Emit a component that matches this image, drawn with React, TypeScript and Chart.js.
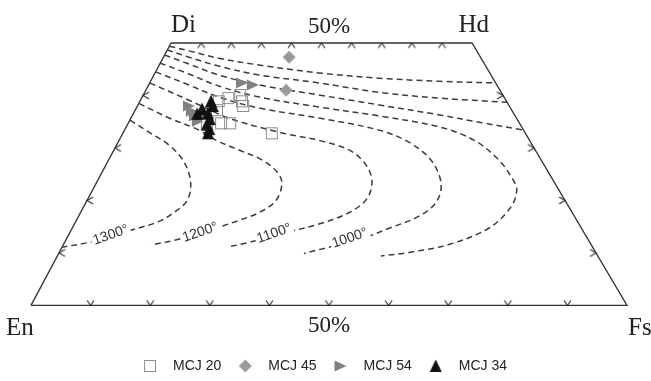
import React, { useEffect, useRef } from 'react';
import { Chart, registerables } from 'chart.js';

Chart.register(...registerables);

// Quadrilateral corners: x = position along the En–Fs base (0–100), y = Wo (%)
const cornerNames = ['En', 'Fs', 'Hd', 'Di'];
const cornerX = [0, 100, 74.0, 23.5];
const cornerY = [0, 0, 50, 50];

// Tick positions
const edgeTickFractions = [0.1, 0.2, 0.3, 0.4, 0.5, 0.6, 0.7, 0.8, 0.9];
const sideTickWo = [10, 20, 30, 40];

// Samples
const seriesNames = ['MCJ 20', 'MCJ 45', 'MCJ 54', 'MCJ 34'];
const mcj20X = [31.5, 33.1, 35.1, 35.4, 35.6, 31.2, 31.9, 33.4, 29.5, 40.4];
const mcj20Y = [38.9, 39.5, 40.1, 38.9, 38.0, 37.2, 34.7, 34.7, 34.4, 32.8];
const mcj45X = [43.3, 42.8];
const mcj45Y = [47.3, 41.0];
const mcj54X = [35.4, 37.2, 26.5, 27.0, 27.5, 28.0, 28.7];
const mcj54Y = [42.4, 42.0, 38.0, 37.0, 36.1, 35.1, 35.9];
const mcj34X = [30.2, 30.5, 28.7, 29.7, 27.9, 30.0, 29.5, 29.9, 29.7];
const mcj34Y = [38.9, 38.0, 37.4, 36.6, 36.5, 35.5, 34.5, 33.6, 32.8];

// Isotherms [x, Wo]
const isoUpper1 = [[23.2, 49.4], [26.5, 48.5], [31.5, 47.1], [38.3, 45.8], [48.3, 44.3], [58.4, 43.3], [68.5, 42.7], [78.0, 42.4]];
const isoUpper2 = [[22.8, 48.7], [26.5, 47.3], [31.5, 45.6], [38.3, 43.9], [48.3, 42.4], [58.4, 40.6], [68.5, 39.5], [79.9, 38.7]];
const isoUpper3 = [[22.4, 47.7], [26.5, 46.0], [31.5, 43.9], [38.3, 42.0], [48.3, 40.1], [58.4, 38.2], [68.5, 36.3], [75.2, 34.9], [82.6, 33.4]];
const isoOuter = [[21.6, 46.2], [26.5, 44.1], [31.5, 41.8], [38.3, 39.7], [48.3, 37.8], [58.4, 36.1], [68.5, 34.0], [74.3, 31.5], [78.5, 27.7], [80.9, 23.9], [81.5, 21.9], [80.5, 18.7], [76.8, 14.7], [70.1, 11.6], [63.4, 10.1], [58.7, 9.4]];
const iso1000 = [[20.9, 44.5], [26.5, 42.0], [31.5, 39.7], [38.3, 37.6], [48.3, 35.7], [58.4, 33.4], [63.4, 31.1], [67.1, 27.7], [68.8, 23.3], [68.0, 19.7], [65.1, 17.0], [60.1, 14.7], [56.7, 13.2], [53.4, 12.0], [50.0, 11.1], [45.8, 9.9]];
const iso1100 = [[19.9, 42.4], [26.5, 39.1], [33.2, 35.7], [41.6, 33.0], [48.8, 31.3], [53.4, 29.6], [56.0, 27.1], [57.2, 23.9], [56.4, 20.4], [53.4, 17.7], [48.3, 15.5], [43.6, 14.1], [39.9, 13.0], [36.6, 12.0], [32.9, 11.1]];
const iso1200 = [[18.1, 38.5], [23.2, 35.7], [28.2, 33.4], [31.0, 31.5], [34.9, 29.6], [38.8, 27.7], [41.3, 25.4], [42.1, 23.3], [41.1, 20.0], [38.3, 17.7], [34.9, 16.2], [31.5, 14.9], [28.2, 13.7], [24.0, 12.4], [20.1, 11.5]];
const iso1300 = [[16.6, 35.3], [19.8, 33.0], [23.2, 30.5], [25.7, 27.3], [26.8, 23.3], [26.2, 20.0], [24.0, 17.7], [21.5, 16.0], [17.3, 14.5], [13.4, 13.2], [9.7, 12.0], [5.2, 11.1]];

const isoLabels = ['1300°', '1200°', '1100°', '1000°'];
const isoLabelX = [13.4, 28.4, 40.8, 53.5];
const isoLabelY = [13.4, 13.9, 13.7, 12.8];

const toPts = (xs: number[], ys: number[]) => xs.map((x, i) => ({ x, y: ys[i] }));
const pairPts = (arr: number[][]) => arr.map(([x, y]) => ({ x, y }));

function makeCanvas(size: number, draw: (c: CanvasRenderingContext2D) => void) {
  const cv = document.createElement('canvas');
  cv.width = size;
  cv.height = size;
  const c = cv.getContext('2d')!;
  draw(c);
  return cv;
}

function chevron(dir: string) {
  return makeCanvas(17, (c) => {
    c.strokeStyle = '#333';
    c.lineWidth = 1.2;
    const cx = 8.5, cy = 8.5;
    c.beginPath();
    if (dir === 'up') { c.moveTo(cx - 3.5, cy + 5); c.lineTo(cx, cy); c.lineTo(cx + 3.5, cy + 5); }
    if (dir === 'down') { c.moveTo(cx - 3.5, cy - 5); c.lineTo(cx, cy); c.lineTo(cx + 3.5, cy - 5); }
    if (dir === 'left') { c.moveTo(cx + 6, cy - 3.5); c.lineTo(cx, cy); c.lineTo(cx + 6, cy + 3.5); }
    if (dir === 'right') { c.moveTo(cx - 6, cy - 3.5); c.lineTo(cx, cy); c.lineTo(cx - 6, cy + 3.5); }
    c.stroke();
  });
}

function marker(kind: string) {
  return makeCanvas(14, (c) => {
    c.beginPath();
    if (kind === 'square') {
      c.strokeStyle = '#8c8c8c';
      c.lineWidth = 1;
      c.strokeRect(1.5, 1.5, 11, 11);
      return;
    }
    if (kind === 'diamond') {
      c.fillStyle = '#9a9a9a';
      c.moveTo(7, 0.5); c.lineTo(13.5, 7); c.lineTo(7, 13.5); c.lineTo(0.5, 7);
    }
    if (kind === 'right') {
      c.fillStyle = '#808080';
      c.moveTo(1, 1.5); c.lineTo(13, 7); c.lineTo(1, 12.5);
    }
    if (kind === 'up') {
      c.fillStyle = '#111';
      c.moveTo(7, 0.5); c.lineTo(13, 13); c.lineTo(1, 13);
    }
    c.closePath();
    c.fill();
  });
}

const textPlugin = {
  id: 'quadText',
  afterDatasetsDraw(chart: any) {
    const { ctx, scales } = chart;
    const xs = scales.x, ys = scales.y;
    ctx.save();
    ctx.font = '14px "Liberation Sans", Arial, sans-serif';
    ctx.textAlign = 'center';
    ctx.textBaseline = 'middle';
    isoLabels.forEach((t, i) => {
      ctx.save();
      ctx.translate(xs.getPixelForValue(isoLabelX[i]), ys.getPixelForValue(isoLabelY[i]));
      ctx.rotate((-19 * Math.PI) / 180);
      const w = ctx.measureText(t).width;
      ctx.fillStyle = '#fff';
      ctx.fillRect(-w / 2 - 2, -6.5, w + 4, 13);
      ctx.fillStyle = '#333';
      ctx.fillText(t, 0, 0);
      ctx.restore();
    });
    ctx.restore();
  },
  afterDraw(chart: any) {
    const { ctx, scales, chartArea } = chart;
    const xs = scales.x;
    ctx.save();
    ctx.font = '25px "Liberation Serif", "Times New Roman", serif';
    ctx.fillStyle = '#222';
    ctx.textBaseline = 'alphabetic';
    const pos: Record<string, [number, number, CanvasTextAlign]> = {
      Di: [xs.getPixelForValue(cornerX[3]), chartArea.top - 11, 'left'],
      Hd: [xs.getPixelForValue(cornerX[2]) + 17, chartArea.top - 11, 'right'],
      En: [xs.getPixelForValue(cornerX[0]) - 25, chartArea.bottom + 30, 'left'],
      Fs: [xs.getPixelForValue(cornerX[1]) + 1, chartArea.bottom + 30, 'left'],
    };
    cornerNames.forEach((n) => {
      const [px, py, al] = pos[n];
      ctx.textAlign = al;
      ctx.fillText(n, px, py);
    });
    ctx.restore();
  },
};

export default function App() {
  const ref = useRef<HTMLCanvasElement>(null);
  useEffect(() => {
    if (!ref.current) return;
    const outline = [0, 1, 2, 3, 0].map((i) => ({ x: cornerX[i], y: cornerY[i] }));
    const topTicks = edgeTickFractions.map((f) => ({ x: cornerX[3] + f * (cornerX[2] - cornerX[3]), y: 50 }));
    const bottomTicks = edgeTickFractions.map((f) => ({ x: cornerX[0] + f * (cornerX[1] - cornerX[0]), y: 0 }));
    const leftTicks = sideTickWo.map((w) => ({ x: (cornerX[3] * w) / 50, y: w }));
    const rightTicks = sideTickWo.map((w) => ({ x: 100 - ((100 - cornerX[2]) * w) / 50, y: w }));

    const isoStyle = {
      showLine: true,
      borderColor: '#3c3c3c',
      borderWidth: 1.5,
      borderDash: [6, 4],
      pointRadius: 0,
      tension: 0.35,
      clip: false as const,
      order: 10,
    };
    const tickStyle = (img: HTMLCanvasElement) => ({
      showLine: false,
      pointStyle: img,
      pointRadius: 5,
      clip: false as const,
      order: 12,
    });

    const markers = [marker('square'), marker('diamond'), marker('right'), marker('up')];
    const hidden = {
      grid: { display: false, drawTicks: false },
      border: { display: false },
      ticks: { display: false },
    };
    const serif = '"Liberation Serif", "Times New Roman", serif';

    const chart = new Chart(ref.current, {
      type: 'scatter',
      data: {
        datasets: [
          { label: seriesNames[0], data: toPts(mcj20X, mcj20Y), pointStyle: markers[0], pointRadius: 6, order: 3, clip: false },
          { label: seriesNames[1], data: toPts(mcj45X, mcj45Y), pointStyle: markers[1], pointRadius: 6, order: 2, clip: false },
          { label: seriesNames[2], data: toPts(mcj54X, mcj54Y), pointStyle: markers[2], pointRadius: 6, order: 1, clip: false },
          { label: seriesNames[3], data: toPts(mcj34X, mcj34Y), pointStyle: markers[3], pointRadius: 6, order: 0, clip: false },
          { label: 'upper1', data: pairPts(isoUpper1), ...isoStyle },
          { label: 'upper2', data: pairPts(isoUpper2), ...isoStyle },
          { label: 'upper3', data: pairPts(isoUpper3), ...isoStyle },
          { label: 'outer', data: pairPts(isoOuter), ...isoStyle },
          { label: '1000', data: pairPts(iso1000), ...isoStyle },
          { label: '1100', data: pairPts(iso1100), ...isoStyle },
          { label: '1200', data: pairPts(iso1200), ...isoStyle },
          { label: '1300', data: pairPts(iso1300), ...isoStyle },
          {
            label: 'outline',
            data: outline,
            showLine: true,
            borderColor: '#333',
            borderWidth: 1.3,
            pointRadius: 0,
            tension: 0,
            clip: false,
            order: 11,
          },
          { label: 'tTop', data: topTicks, ...tickStyle(chevron('up')) },
          { label: 'tBottom', data: bottomTicks, ...tickStyle(chevron('down')) },
          { label: 'tLeft', data: leftTicks, ...tickStyle(chevron('left')) },
          { label: 'tRight', data: rightTicks, ...tickStyle(chevron('right')) },
        ] as any,
      },
      options: {
        animation: false,
        responsive: false,
        layout: { padding: { top: 0, left: 14, right: 24, bottom: 0 } },
        scales: {
          x: {
            type: 'linear',
            min: 0,
            max: 100,
            position: 'bottom',
            ...hidden,
            title: {
              display: true,
              text: '50%',
              color: '#222',
              font: { family: serif, size: 23 },
              padding: { top: 7, bottom: 11 },
            },
          },
          x2: {
            type: 'linear',
            min: 0,
            max: 100,
            position: 'top',
            ...hidden,
            title: {
              display: true,
              text: '50%',
              color: '#222',
              font: { family: serif, size: 23 },
              padding: { top: 13, bottom: 2.4 },
            },
          },
          y: {
            type: 'linear',
            min: 0,
            max: 50,
            ...hidden,
            afterFit: (s: any) => { s.width = 17; },
          },
        },
        plugins: {
          tooltip: { enabled: false },
          legend: {
            position: 'bottom',
            maxHeight: 30,
            labels: {
              usePointStyle: true,
              pointStyleWidth: 32,
              padding: 8,
              color: '#222',
              font: { family: '"Liberation Sans", Arial, sans-serif', size: 14 },
              filter: (item: any) => item.datasetIndex < 4,
              sort: (a: any, b: any) => a.datasetIndex - b.datasetIndex,
            },
          },
        },
      } as any,
      plugins: [textPlugin],
    });
    return () => chart.destroy();
  }, []);

  return (
    <div style={{ position: 'fixed', left: 0, top: 0, width: 651, height: 381, background: '#fff' }}>
      <canvas ref={ref} width={651} height={381} style={{ display: 'block' }} />
    </div>
  );
}
